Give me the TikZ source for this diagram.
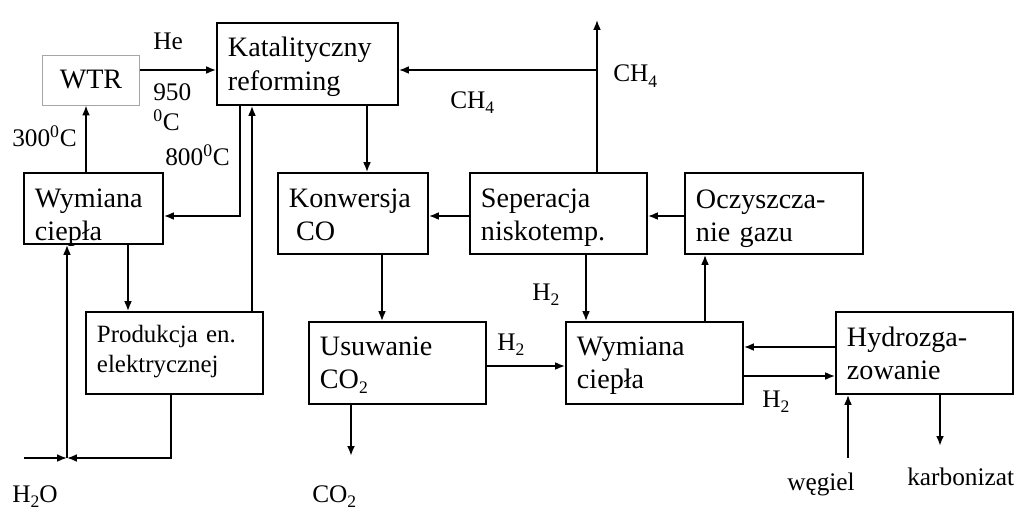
\documentclass[tikz,border=0pt]{standalone}
\usepackage{fontspec}
\setmainfont{Liberation Serif}
\usetikzlibrary{arrows.meta,positioning}
\newcommand{\lowsub}[1]{\raisebox{-0.45ex}{\fontsize{12.5}{13}\selectfont #1}}
\tikzset{
    % Sharp-cornered boxes
    process/.style={
        rectangle,
        draw=black,
        line width=1.3pt,
        fill=white,
        inner xsep=0.275cm,
        minimum height=2.05cm,
        text height=0.5cm,
        text depth=0.85cm,
        align=left,
        font=\fontsize{20}{23.5}\selectfont
    },
    process small/.style={
        process,
        text depth=1.05cm,
        font=\fontsize{17.7}{22}\selectfont
    },
    process thin/.style={
        process,
        draw=gray!70,
        line width=0.7pt,
        text height=,
        text depth=,
        align=center
    },
    arrow/.style={
        -{Latex[length=7pt,width=5.5pt]},
        line width=1.1pt,
        color=black
    },
    arrow thick/.style={
        arrow,
        line width=1.7pt
    },
    stream label/.style={
        inner sep=0pt,
        anchor=base west,
        font=\fontsize{18}{21.5}\selectfont
    }
}

\begin{document}
\begin{tikzpicture}[x=0.025cm, y=-0.025cm]
        \useasboundingbox (0,0) rectangle (1024,519);

        % Process units
        \node[process thin, minimum width=2.4cm, minimum height=1.25cm] (wtr) at (91,80) {WTR};
        \node[process, text width=3.975cm] (reformer) at (307.5,64) {Katalityczny\\reforming};
        \node[process, text width=2.925cm, minimum height=1.775cm, text depth=0.575cm] (hexleft) at (93.5,208.5) {Wymiana\\ciepła};
        \node[process small, text width=3.875cm] (power) at (174.5,353) {Produkcja en.\\elektrycznej};
        \node[process, text width=3.2cm, minimum height=2.025cm, text depth=0.825cm] (shift) at (353,213.5) {Konwersja\\\hspace*{0.25em}CO};
        \node[process, text width=3.875cm, minimum height=2.025cm, text depth=0.825cm] (separation) at (558.5,213.5) {Seperacja\\niskotemp.};
        \node[process, text width=3.9cm, minimum height=2.025cm, text depth=0.775cm] (cleaning) at (774,213.5) {Oczyszcza-\\nie gazu};
        \node[process, text width=3.875cm, text depth=0.9cm] (co2removal) at (397.5,363) {Usuwanie\\CO\lowsub{2}};
        \node[process, text width=3.875cm, text depth=0.9cm] (hexright) at (654.5,363) {Wymiana\\ciepła};
        \node[process, text width=3.875cm] (gasifier) at (924.5,353) {Hydrozga-\\zowanie};

        % Free ends of the streams
        \coordinate (waterin) at (24,458);
        \coordinate (waterjoin) at (67,458);
        \coordinate (ch4out) at (597,20);
        \coordinate (co2out) at (351,456);
        \coordinate (coalin) at (848,458);
        \coordinate (charout) at (940,446);

        % Stream labels
        \node[stream label] (helbl) at (153,50) {He};
        \node[stream label, anchor=north west, align=left] (t950lbl) at (153,83) {950\\\textsuperscript{0}C};
        \node[stream label] (t800lbl) at (165,165) {800\textsuperscript{0}C};
        \node[stream label] (t300lbl) at (12,146) {300\textsuperscript{0}C};
        \node[stream label] (ch4outlbl) at (613,82) {CH\lowsub{4}};
        \node[stream label] (ch4lbl) at (450,108) {CH\lowsub{4}};
        \node[stream label] (h2seplbl) at (532,300) {H\lowsub{2}};
        \node[stream label] (h2co2lbl) at (497,350) {H\lowsub{2}};
        \node[stream label] (h2gaslbl) at (762,407) {H\lowsub{2}};
        \node[stream label] (waterlbl) at (12,502) {H\lowsub{2}O};
        \node[stream label] (co2lbl) at (312,502) {CO\lowsub{2}};
        \node[stream label] (coallbl) at (787,490) {węgiel};
        \node[stream label] (charlbl) at (907,485) {karbonizat};

        % Arrows
        \draw[arrow] (wtr.east |- 0,70) -- (reformer.west |- 0,70);
        \draw[arrow] (hexleft.north -| 86,0) -- (wtr.south -| 86,0);
        \draw[arrow] (reformer.south -| 240,0) |- (hexleft.east |- 0,216);
        \draw[arrow] (power.north -| 252,0) -- (reformer.south -| 252,0);
        \draw[arrow] (reformer.south -| 367,0) -- (shift.north -| 367,0);
        \draw[arrow] (hexleft.south -| 128,0) -- (power.north -| 128,0);
        \draw[arrow] (waterin) -- (waterjoin);
        \draw[arrow] (power.south -| 171,0) |- (waterjoin);
        \draw[arrow] (waterjoin) -- (hexleft.south -| waterjoin);
        \draw[arrow] (separation.west |- 0,216) -- (shift.east |- 0,216);
        \draw[arrow] (cleaning.west |- 0,216) -- (separation.east |- 0,216);
        \draw[arrow] (separation.north -| ch4out) -- (ch4out);
        \draw[arrow] (ch4out |- 0,70) -- (reformer.east |- 0,70);
        \draw[arrow] (separation.south -| 586,0) -- (hexright.north -| 586,0);
        \draw[arrow] (shift.south -| 382,0) -- (co2removal.north -| 382,0);
        \draw[arrow] (co2removal.east |- 0,366) -- (hexright.west |- 0,366);
        \draw[arrow thick] (co2removal.south -| co2out) -- (co2out);
        \draw[arrow] (hexright.north -| 705,0) -- (cleaning.south -| 705,0);
        \draw[arrow] (gasifier.west |- 0,347) -- (hexright.east |- 0,347);
        \draw[arrow] (hexright.east |- 0,376) -- (gasifier.west |- 0,376);
        \draw[arrow] (coalin) -- (gasifier.south -| coalin);
        \draw[arrow thick] (gasifier.south -| charout) -- (charout);
    \end{tikzpicture}
\end{document}
